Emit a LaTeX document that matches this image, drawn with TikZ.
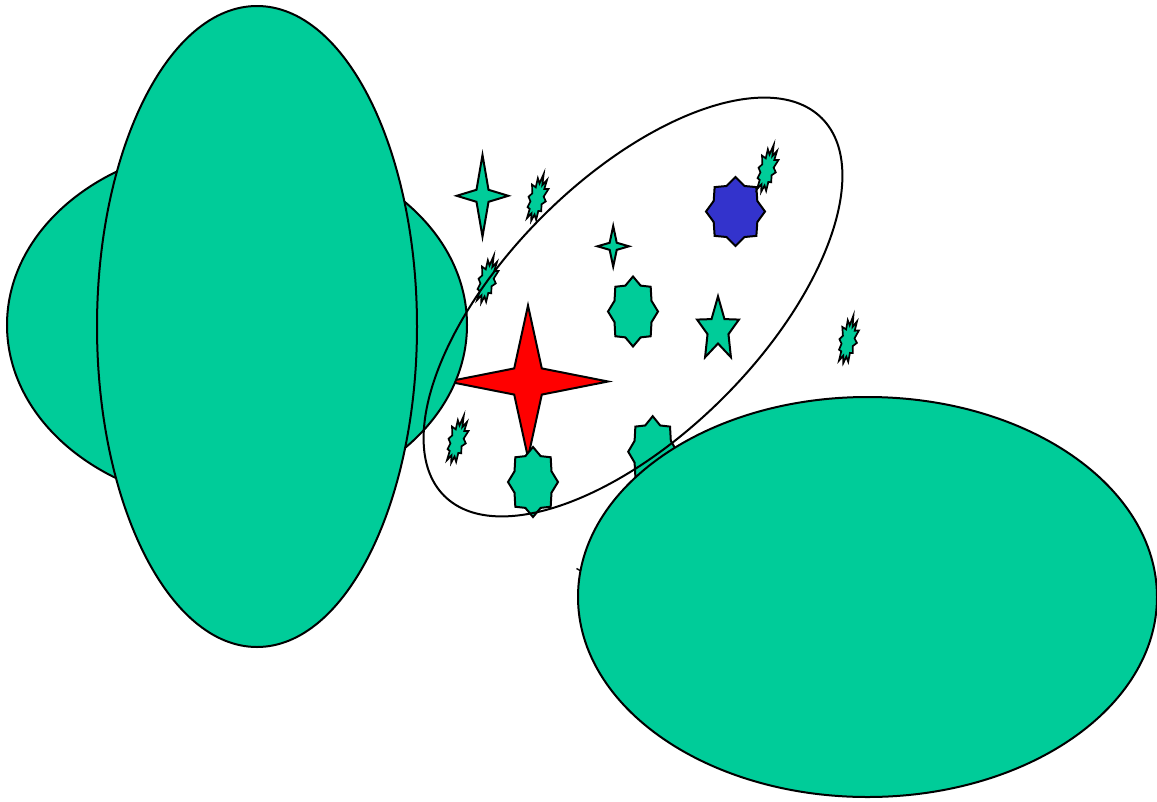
\documentclass[tikz,border=0pt]{standalone}
\definecolor{sgreen}{RGB}{0,204,153}
\definecolor{sblue}{RGB}{51,51,204}
\definecolor{sred}{RGB}{255,0,0}
\tikzset{
  outl/.style={draw=black, line width=2pt, line join=miter, miter limit=20},
  gfill/.style={outl, fill=sgreen},
  bfill/.style={outl, fill=sblue},
  rfill/.style={outl, fill=sred},
  jagstyle/.style={outl, fill=sgreen, line width=1.7pt},
}
% style, cx, cy, points, outer rx, outer ry, inner rx, inner ry
\newcommand{\polystar}[8]{%
  \begin{scope}[shift={(#2,#3)}]
    \draw[#1] (-90:#5 and #6)
      \foreach \k in {1,...,#4} { -- ({-90+(\k-0.5)*360/#4}:#7 and #8) -- ({-90+\k*360/#4}:#5 and #6) } -- cycle;
  \end{scope}}
% cx, cy, rotation
\newcommand{\jagshape}[3]{%
  \begin{scope}[shift={(#1,#2)},rotate=#3]
    \draw[jagstyle] (0:{7*1.3} and {18*1.3})
      \foreach \a/\r in {15/0.85,30/1.2,45/0.88,60/1.3,75/0.9,90/1.25,105/0.88,120/1.35,135/0.9,150/1.15,165/0.85,180/1.25,195/0.9,210/1.4,225/0.86,240/1.3,255/0.9,270/1.45,285/0.85,300/1.35,315/0.9,330/1.4,345/0.86}
      { -- (\a:{7*\r} and {18*\r}) } -- cycle;
  \end{scope}}
\begin{document}
\begin{tikzpicture}[x=1pt,y=-1pt]
\useasboundingbox (0,0) rectangle (1157,801);
% red four-point star (partly under the left ellipses)
\polystar{rfill}{528}{381.5}{4}{80}{76}{19.5}{18.5}
% left ellipses
\draw[gfill] (237,325) ellipse [x radius=230pt, y radius=180pt];
\draw[gfill] (257,326.5) ellipse [x radius=160pt, y radius=320.5pt];
% small shapes
\polystar{gfill}{482.5}{195.8}{4}{25.8}{40.8}{8.5}{8.5}
\polystar{gfill}{613.2}{246.3}{4}{15.8}{20.3}{5}{5}
\polystar{bfill}{735.5}{211.5}{8}{29.5}{34.5}{23.6}{27.6}
\polystar{gfill}{633}{311.5}{8}{25}{35}{20}{28}
\polystar{gfill}{718}{330}{5}{22}{33.7}{11}{13.5}
\polystar{gfill}{533}{482}{8}{25}{35}{20}{28}
\polystar{gfill}{652.7}{451.7}{8}{24.5}{35.5}{19.6}{28.4}
\jagshape{537}{199}{-15}
\jagshape{767}{170}{-15}
\jagshape{487}{281}{-15}
\jagshape{457}{441}{-15}
\jagshape{848}{341}{-12}
% tilted outline ellipse
\begin{scope}[shift={(633,307)},rotate=45]
  \draw[outl] (0,0) ellipse [x radius=267pt, y radius=128pt];
\end{scope}
% bottom-right ellipse
\draw[gfill] (867.5,597) ellipse [x radius=289.5pt, y radius=200pt];
\draw[outl, line width=1.4pt] (576.5,568.5) -- (580,570.5);
\end{tikzpicture}
\end{document}
